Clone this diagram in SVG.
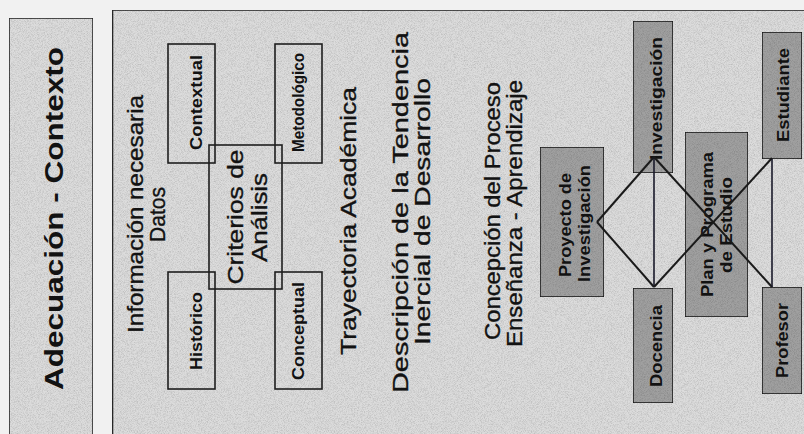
<svg xmlns="http://www.w3.org/2000/svg" width="804" height="434" viewBox="0 0 804 434">
  <defs>
    <!-- fine halftone-like speckle for the shaded areas -->
    <filter id="grain" x="0" y="0" width="100%" height="100%">
      <feTurbulence type="fractalNoise" baseFrequency="1.3" numOctaves="1" seed="3" result="n"/>
      <feColorMatrix in="n" type="matrix" values="0 0 0 0 0  0 0 0 0 0  0 0 0 0 0  0 0 0 -0.7 0.42" result="dots"/>
      <feComposite in="dots" in2="SourceGraphic" operator="in" result="clip"/>
      <feMerge><feMergeNode in="SourceGraphic"/><feMergeNode in="clip"/></feMerge>
    </filter>
    <style>
      .panel { fill: #dcdcdc; stroke: #2a2a2a; stroke-width: 1.6; }
      .box { fill: none; stroke: #1e1e1e; stroke-width: 1.6; }
      .dbox { fill: #a0a0a0; stroke: #1e1e1e; stroke-width: 1.6; }
      .t { font-family: "Liberation Sans", Arial, sans-serif; fill: #121212; text-anchor: middle; }
      .title { font-size: 25px; font-weight: bold; }
      .big { font-size: 22px; stroke: #121212; stroke-width: 0.35; }
      .lbl { font-size: 17px; font-weight: bold; }
      .nlbl { font-size: 17px; font-weight: bold; }
      .link { stroke: #1a1a1a; stroke-width: 2; fill: none; }
      .vlink { stroke: #1a1a2a; stroke-width: 1.6; fill: none; }
    </style>
  </defs>

  <!-- page -->
  <rect x="0" y="0" width="804" height="434" fill="#f1f1f1"/>

  <!-- left band: title -->
  <g id="adecuacion-contexto">
    <rect class="panel" x="9" y="18" width="84" height="430" filter="url(#grain)"/>
    <text class="t title" transform="translate(63,218.5) rotate(-90)" textLength="343" lengthAdjust="spacingAndGlyphs">Adecuación - Contexto</text>
  </g>

  <!-- main panel -->
  <g id="main-panel">
    <rect class="panel" x="112.5" y="10" width="710" height="440" filter="url(#grain)"/>
  </g>

  <g id="informacion">
    <text class="t big" transform="translate(143,214) rotate(-90)" textLength="238" lengthAdjust="spacingAndGlyphs">Información necesaria</text>
    <text class="t big" transform="translate(165,214.5) rotate(-90)" textLength="55" lengthAdjust="spacingAndGlyphs">Datos</text>
  </g>

  <g id="contextual">
    <rect class="box" x="168" y="44" width="47" height="119"/>
    <text class="t lbl" transform="translate(202,102.5) rotate(-90)" textLength="95" lengthAdjust="spacingAndGlyphs">Contextual</text>
  </g>
  <g id="historico">
    <rect class="box" x="168" y="272" width="47" height="117"/>
    <text class="t lbl" transform="translate(202,331) rotate(-90)" textLength="78" lengthAdjust="spacingAndGlyphs">Histórico</text>
  </g>
  <g id="metodologico">
    <rect class="box" x="275" y="44" width="47" height="119"/>
    <text class="t lbl" transform="translate(304,102.5) rotate(-90)" textLength="99" lengthAdjust="spacingAndGlyphs">Metodológico</text>
  </g>
  <g id="conceptual">
    <rect class="box" x="275" y="272" width="47" height="117"/>
    <text class="t lbl" transform="translate(304,331) rotate(-90)" textLength="98" lengthAdjust="spacingAndGlyphs">Conceptual</text>
  </g>
  <g id="criterios">
    <rect class="box" x="209" y="145" width="73" height="144"/>
    <text class="t big" transform="translate(243,217) rotate(-90)" textLength="135" lengthAdjust="spacingAndGlyphs">Criterios de</text>
    <text class="t big" transform="translate(267,217.5) rotate(-90)" textLength="89" lengthAdjust="spacingAndGlyphs">Análisis</text>
  </g>

  <g id="trayectoria">
    <text class="t big" transform="translate(356,221) rotate(-90)" textLength="268" lengthAdjust="spacingAndGlyphs">Trayectoria Académica</text>
  </g>
  <g id="descripcion">
    <text class="t big" transform="translate(408,212.5) rotate(-90)" textLength="361" lengthAdjust="spacingAndGlyphs">Descripción de la Tendencia</text>
    <text class="t big" transform="translate(430,211.5) rotate(-90)" textLength="267" lengthAdjust="spacingAndGlyphs">Inercial de Desarrollo</text>
  </g>
  <g id="concepcion">
    <text class="t big" transform="translate(500,211) rotate(-90)" textLength="258" lengthAdjust="spacingAndGlyphs">Concepción del Proceso</text>
    <text class="t big" transform="translate(522,213.5) rotate(-90)" textLength="267" lengthAdjust="spacingAndGlyphs">Enseñanza - Aprendizaje</text>
  </g>

  <!-- shaded nodes -->
  <g id="proyecto">
    <rect class="dbox" x="540" y="147" width="64" height="150" filter="url(#grain)"/>
    <text class="t nlbl" transform="translate(571,225) rotate(-90)" textLength="104" lengthAdjust="spacingAndGlyphs">Proyecto de</text>
    <text class="t nlbl" transform="translate(590,223.5) rotate(-90)" textLength="117" lengthAdjust="spacingAndGlyphs">Investigación</text>
  </g>
  <g id="investigacion">
    <rect class="dbox" x="633" y="21" width="40" height="152" filter="url(#grain)"/>
    <text class="t nlbl" transform="translate(662,98.5) rotate(-90)" textLength="123" lengthAdjust="spacingAndGlyphs">Investigación</text>
  </g>
  <g id="docencia">
    <rect class="dbox" x="633" y="288" width="40" height="115" filter="url(#grain)"/>
    <text class="t nlbl" transform="translate(662,346) rotate(-90)" textLength="82" lengthAdjust="spacingAndGlyphs">Docencia</text>
  </g>
  <g id="plan">
    <rect class="dbox" x="685" y="132" width="63" height="185" filter="url(#grain)"/>
    <text class="t nlbl" transform="translate(713,224.5) rotate(-90)" textLength="145" lengthAdjust="spacingAndGlyphs">Plan y Programa</text>
    <text class="t nlbl" transform="translate(732,225) rotate(-90)" textLength="96" lengthAdjust="spacingAndGlyphs">de Estudio</text>
  </g>
  <g id="estudiante">
    <rect class="dbox" x="762" y="32" width="40" height="127" filter="url(#grain)"/>
    <text class="t nlbl" transform="translate(789,95) rotate(-90)" textLength="94" lengthAdjust="spacingAndGlyphs">Estudiante</text>
  </g>
  <g id="profesor">
    <rect class="dbox" x="762" y="287" width="40" height="107" filter="url(#grain)"/>
    <text class="t nlbl" transform="translate(788,340.5) rotate(-90)" textLength="75" lengthAdjust="spacingAndGlyphs">Profesor</text>
  </g>

  <!-- connectors -->
  <g id="connectors">
    <line class="link" x1="597" y1="222" x2="654" y2="157"/>
    <line class="link" x1="597" y1="222" x2="654" y2="287"/>
    <line class="vlink" x1="654" y1="157" x2="654" y2="287"/>
    <line class="link" x1="654" y1="157" x2="772" y2="287"/>
    <line class="link" x1="654" y1="287" x2="772" y2="158"/>
    <line class="vlink" x1="772" y1="159" x2="772" y2="287"/>
  </g>
</svg>
